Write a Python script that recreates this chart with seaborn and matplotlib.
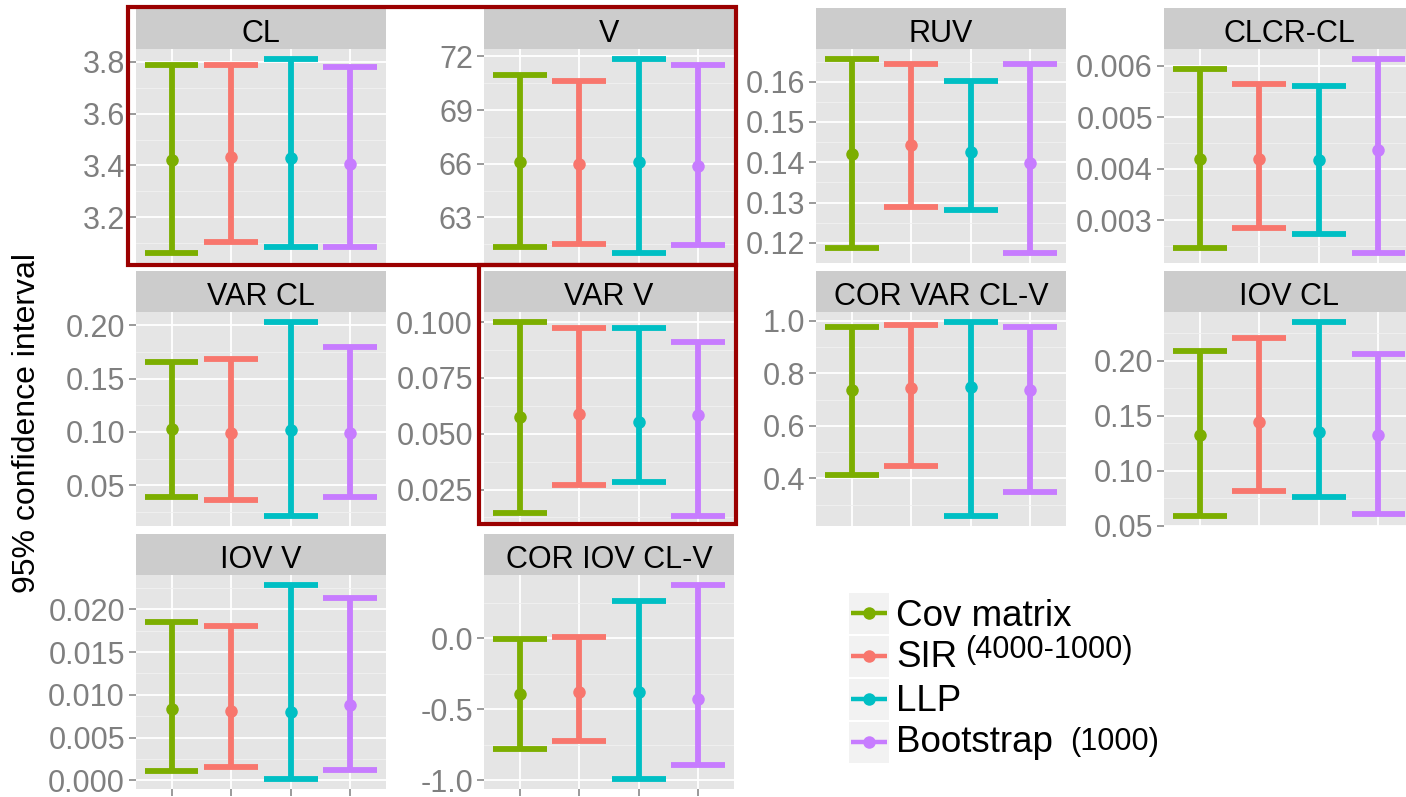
import numpy as np
import pandas as pd
import matplotlib
matplotlib.use("Agg")
import matplotlib.pyplot as plt
from matplotlib.patches import Rectangle
from matplotlib.lines import Line2D
import seaborn as sns

# ---------------- data ----------------
METHODS = ["Cov matrix", "SIR", "LLP", "Bootstrap"]
COLORS = ["#7CAE00", "#F8766D", "#00BFC4", "#C77CFF"]
PARAMS = ["CL", "V", "RUV", "CLCR-CL", "VAR CL", "VAR V",
          "COR VAR CL-V", "IOV CL", "IOV V", "COR IOV CL-V"]

LOWER = [
    [3.062, 3.107, 3.087, 3.087],
    [61.37, 61.54, 61.00, 61.44],
    [0.1186, 0.1289, 0.1281, 0.1174],
    [0.00246, 0.00286, 0.00274, 0.00236],
    [0.039, 0.0358, 0.0208, 0.039],
    [0.0145, 0.0268, 0.0282, 0.013],
    [0.415, 0.447, 0.256, 0.349],
    [0.0588, 0.0822, 0.0761, 0.0607],
    [0.00109, 0.00159, 0.00012, 0.00124],
    [-0.783, -0.724, -0.993, -0.893],
]
ESTIMATE = [
    [3.422, 3.432, 3.428, 3.407],
    [66.12, 66.01, 66.12, 65.88],
    [0.1421, 0.1442, 0.1425, 0.1398],
    [0.00420, 0.00420, 0.00417, 0.00436],
    [0.103, 0.0987, 0.1019, 0.0987],
    [0.0574, 0.0588, 0.0552, 0.0582],
    [0.738, 0.744, 0.750, 0.738],
    [0.1326, 0.1441, 0.1356, 0.1326],
    [0.00839, 0.00816, 0.0080, 0.00878],
    [-0.393, -0.374, -0.374, -0.428],
]
UPPER = [
    [3.786, 3.786, 3.811, 3.781],
    [70.98, 70.63, 71.87, 71.52],
    [0.1657, 0.1645, 0.1602, 0.1645],
    [0.00595, 0.00564, 0.00561, 0.00614],
    [0.166, 0.1689, 0.2035, 0.1796],
    [0.1002, 0.0973, 0.0973, 0.091],
    [0.978, 0.985, 0.997, 0.978],
    [0.209, 0.2206, 0.2355, 0.2061],
    [0.01856, 0.0180, 0.02287, 0.02136],
    [-0.005, 0.007, 0.264, 0.379],
]
YTICKS = [
    ["3.2", "3.4", "3.6", "3.8"],
    ["63", "66", "69", "72"],
    ["0.12", "0.13", "0.14", "0.15", "0.16"],
    ["0.003", "0.004", "0.005", "0.006"],
    ["0.05", "0.10", "0.15", "0.20"],
    ["0.025", "0.050", "0.075", "0.100"],
    ["0.4", "0.6", "0.8", "1.0"],
    ["0.05", "0.10", "0.15", "0.20"],
    ["0.000", "0.005", "0.010", "0.015", "0.020"],
    ["-1.0", "-0.5", "0.0"],
]
LEGEND_SUP = ["", "(4000-1000)", "", "(1000)"]
YLABEL = "95% confidence interval"

# ---------------- style ----------------
sns.set_theme(style="white")
plt.rcParams["font.family"] = ["Liberation Sans", "DejaVu Sans"]

W, H = 1406, 797
fig = plt.figure(figsize=(W / 100, H / 100), dpi=100)
fig.patch.set_facecolor("white")

COL_LEFT = [136, 484, 816, 1164]
ROW_TOP = [8, 271, 534]
PW, SH, PH = 250, 41, 214
GRID = [(0, 0), (0, 1), (0, 2), (0, 3), (1, 0), (1, 1),
        (1, 2), (1, 3), (2, 0), (2, 1)]
BOTTOM_PANELS = {"IOV V", "COR IOV CL-V"}
TICK_GREY = "#7F7F7F"


def fig_rect(x, y, w, h):
    return [x / W, 1 - (y + h) / H, w / W, h / H]


for i, p in enumerate(PARAMS):
    r, c = GRID[i]
    x0, y0 = COL_LEFT[c], ROW_TOP[r]

    # strip
    sax = fig.add_axes(fig_rect(x0, y0, PW, SH))
    sax.set_facecolor("#CCCCCC")
    sax.set_xticks([])
    sax.set_yticks([])
    for s in sax.spines.values():
        s.set_visible(False)
    sax.text(0.5, 0.17, p, ha="center", va="baseline", fontsize=22,
             color="black", transform=sax.transAxes)

    # panel
    ax = fig.add_axes(fig_rect(x0, y0 + SH, PW, PH))
    rows = []
    for m, lo, est, hi in zip(METHODS, LOWER[i], ESTIMATE[i], UPPER[i]):
        for v in (lo, est, hi):
            rows.append({"method": m, "value": v})
    df = pd.DataFrame(rows)
    sns.pointplot(data=df, x="method", y="value", hue="method",
                  order=METHODS, hue_order=METHODS, palette=COLORS,
                  estimator="median",
                  errorbar=lambda v: (v.min(), v.max()),
                  capsize=0.9, dodge=False, legend=False,
                  linestyle="none", markers="o",
                  markersize=9, markeredgewidth=0,
                  err_kws={"linewidth": 4.2, "solid_capstyle": "butt"},
                  ax=ax)

    ax.set_facecolor("#E5E5E5")
    for s in ax.spines.values():
        s.set_visible(False)
    ax.set_xlabel("")
    ax.set_ylabel("")
    ax.set_xlim(-0.6, len(METHODS) - 0.4)
    lo_all, hi_all = min(LOWER[i]), max(UPPER[i])
    rng = hi_all - lo_all
    ylo, yhi = lo_all - 0.05 * rng, hi_all + 0.05 * rng
    ax.set_ylim(ylo, yhi)

    tick_vals = [float(t) for t in YTICKS[i]]
    ax.set_yticks(tick_vals, labels=YTICKS[i])
    step = tick_vals[1] - tick_vals[0]
    minors = []
    k = tick_vals[0] - step / 2
    while k <= yhi:
        if k >= ylo:
            minors.append(k)
        k += step
    ax.set_yticks(minors, minor=True)

    ax.set_xticks(range(len(METHODS)))
    ax.set_xticklabels([])
    ax.set_axisbelow(True)
    ax.grid(which="major", axis="both", color="white", linewidth=1.3)
    ax.grid(which="minor", axis="y", color="#F2F2F2", linewidth=0.6)
    ax.tick_params(axis="y", which="major", length=5, width=1.1,
                   color=TICK_GREY, labelcolor=TICK_GREY, labelsize=22,
                   pad=3, left=True)
    ax.tick_params(axis="y", which="minor", length=0)
    if p in BOTTOM_PANELS:
        ax.tick_params(axis="x", which="major", length=5, width=1.1,
                       color=TICK_GREY, bottom=True, labelbottom=False)
    else:
        ax.tick_params(axis="x", which="major", length=0,
                       labelbottom=False)

# y label
fig.text(27 / W, 1 - 423 / H, YLABEL, rotation=90, ha="center",
         va="center", fontsize=23, color="black")

# highlight boxes
BOX_RED = "#9B0000"
for (bx0, by0, bx1, by1) in [(128, 7, 736, 265), (479, 265, 736, 524)]:
    fig.add_artist(Rectangle((bx0 / W, 1 - by1 / H), (bx1 - bx0) / W,
                             (by1 - by0) / H, transform=fig.transFigure,
                             fill=False, edgecolor=BOX_RED, linewidth=3.0))

# legend
lax = fig.add_axes(fig_rect(840, 585, 420, 190))
lax.set_xlim(840, 1260)
lax.set_ylim(775, 585)
lax.axis("off")
KEY_CY = [613, 656, 699, 742]
TEXT_BASE = [626, 667, 711, 752]
SUP_POS = [None, (965, 658), None, (1070, 750)]
for j, m in enumerate(METHODS):
    cy = KEY_CY[j]
    lax.add_patch(Rectangle((849, cy - 20.5), 40, 41, facecolor="#F2F2F2",
                            edgecolor="none"))
    lax.add_line(Line2D([851, 887], [cy, cy], color=COLORS[j],
                        linewidth=3.2, solid_capstyle="butt"))
    lax.add_line(Line2D([869], [cy], color=COLORS[j], marker="o",
                        markersize=9, markeredgewidth=0))
    lax.text(896, TEXT_BASE[j], m, fontsize=26.5, color="black",
             va="baseline", ha="left")
    if LEGEND_SUP[j]:
        sx, sy = SUP_POS[j]
        lax.text(sx, sy, LEGEND_SUP[j], fontsize=22,
                 color="black", va="baseline", ha="left")

fig.savefig("out.png", dpi=100, facecolor="white")
